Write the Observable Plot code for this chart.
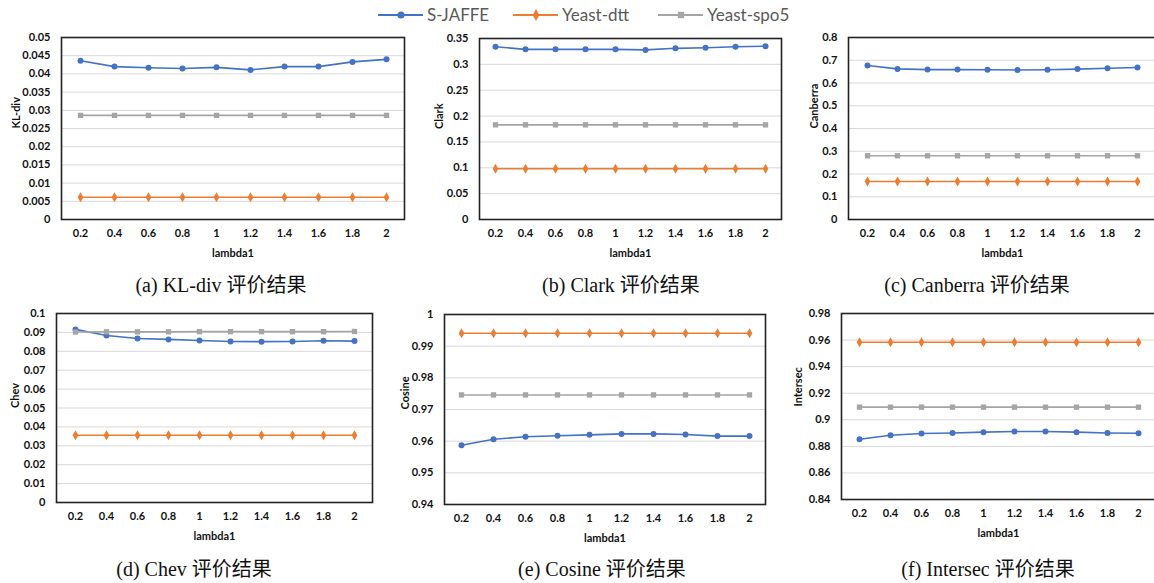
<!DOCTYPE html>
<html>
<head>
<meta charset="utf-8">
<script src="https://cdn.jsdelivr.net/npm/d3@7"></script>
<script src="https://cdn.jsdelivr.net/npm/@observablehq/plot@0.6"></script>
<style>
  html, body { margin: 0; padding: 0; background: #fff; overflow: hidden; }
  #root { position: relative; width: 1154px; height: 583px; overflow: hidden; }
  .panel { position: absolute; }
  .caption { position: absolute; transform: translate(-50%, -50%); white-space: nowrap;
    font-family: "Liberation Serif", "Times New Roman", "Noto Sans CJK SC", serif; font-size: 20px; color: #111; }
  #legend { position: absolute; left: 0; top: 0; width: 1154px; height: 30px; }
  .leg { position: absolute; top: 4px; display: flex; align-items: center; font-family: Lato, sans-serif; font-size: 17px; color: #595959; }
  .leg svg { margin-right: 3px; }
</style>
</head>
<body>
<div id="root"><div id="legend"></div></div>
<script>
// ---- data ----
const lambdas = ["0.2", "0.4", "0.6", "0.8", "1", "1.2", "1.4", "1.6", "1.8", "2"];
const seriesNames = ["S-JAFFE", "Yeast-dtt", "Yeast-spo5"];
const seriesColors = ["#4472C4", "#ED7D31", "#A5A5A5"];
const seriesSymbols = ["circle", "diamond", "square"];
const xTitle = "lambda1";

const klJaffe = [0.0436, 0.0420, 0.0417, 0.0415, 0.0418, 0.0411, 0.0420, 0.0420, 0.0433, 0.0440];
const klDtt   = [0.0061, 0.0061, 0.0061, 0.0061, 0.0061, 0.0061, 0.0061, 0.0061, 0.0061, 0.0061];
const klSpo5  = [0.0286, 0.0286, 0.0286, 0.0286, 0.0286, 0.0286, 0.0286, 0.0286, 0.0286, 0.0286];
const klTicks = [0, 0.005, 0.01, 0.015, 0.02, 0.025, 0.03, 0.035, 0.04, 0.045, 0.05];

const clarkJaffe = [0.334, 0.329, 0.329, 0.329, 0.329, 0.328, 0.331, 0.332, 0.334, 0.335];
const clarkDtt   = [0.098, 0.098, 0.098, 0.098, 0.098, 0.098, 0.098, 0.098, 0.098, 0.098];
const clarkSpo5  = [0.183, 0.183, 0.183, 0.183, 0.183, 0.183, 0.183, 0.183, 0.183, 0.183];
const clarkTicks = [0, 0.05, 0.1, 0.15, 0.2, 0.25, 0.3, 0.35];

const canberraJaffe = [0.677, 0.662, 0.659, 0.659, 0.658, 0.657, 0.658, 0.661, 0.665, 0.668];
const canberraDtt   = [0.167, 0.167, 0.167, 0.167, 0.167, 0.167, 0.167, 0.167, 0.167, 0.167];
const canberraSpo5  = [0.280, 0.280, 0.280, 0.280, 0.280, 0.280, 0.280, 0.280, 0.280, 0.280];
const canberraTicks = [0, 0.1, 0.2, 0.3, 0.4, 0.5, 0.6, 0.7, 0.8];

const chevJaffe = [0.0916, 0.0884, 0.0868, 0.0863, 0.0857, 0.0852, 0.0851, 0.0852, 0.0856, 0.0854];
const chevDtt   = [0.0356, 0.0356, 0.0356, 0.0356, 0.0356, 0.0356, 0.0356, 0.0356, 0.0356, 0.0356];
const chevSpo5  = [0.0902, 0.0903, 0.0903, 0.0903, 0.0904, 0.0904, 0.0904, 0.0904, 0.0904, 0.0905];
const chevTicks = [0, 0.01, 0.02, 0.03, 0.04, 0.05, 0.06, 0.07, 0.08, 0.09, 0.1];

const cosineJaffe = [0.9587, 0.9606, 0.9614, 0.9617, 0.9620, 0.9623, 0.9623, 0.9621, 0.9616, 0.9616];
const cosineDtt   = [0.9941, 0.9941, 0.9941, 0.9941, 0.9941, 0.9941, 0.9941, 0.9941, 0.9941, 0.9941];
const cosineSpo5  = [0.9746, 0.9746, 0.9746, 0.9746, 0.9746, 0.9746, 0.9746, 0.9746, 0.9746, 0.9746];
const cosineTicks = [0.94, 0.95, 0.96, 0.97, 0.98, 0.99, 1];

const intersecJaffe = [0.8854, 0.8884, 0.8897, 0.8901, 0.8907, 0.8912, 0.8912, 0.8907, 0.8901, 0.8899];
const intersecDtt   = [0.9584, 0.9584, 0.9584, 0.9584, 0.9584, 0.9584, 0.9584, 0.9584, 0.9584, 0.9584];
const intersecSpo5  = [0.9095, 0.9095, 0.9095, 0.9095, 0.9095, 0.9095, 0.9095, 0.9095, 0.9095, 0.9095];
const intersecTicks = [0.84, 0.86, 0.88, 0.9, 0.92, 0.94, 0.96, 0.98];

const metricNames = ["KL-div", "Clark", "Canberra", "Chev", "Cosine", "Intersec"];
const captions = ["(a) KL-div 评价结果", "(b) Clark 评价结果", "(c) Canberra 评价结果",
                  "(d) Chev 评价结果", "(e) Cosine 评价结果", "(f) Intersec 评价结果"];

// ---- layout (frame boxes in page pixels) ----
const layout = [
  {L: 61,  R: 404,  T: 37,  B: 219, ylab: -45, cx: 221, cy: 283},
  {L: 479, R: 781,  T: 38,  B: 219, ylab: -40, cx: 621, cy: 283},
  {L: 848, R: 1156, T: 37,  B: 219, ylab: -34, cx: 977, cy: 283},
  {L: 56,  R: 372,  T: 313, B: 502, ylab: -41, cx: 194, cy: 567},
  {L: 444, R: 765,  T: 314, B: 504, ylab: -39, cx: 602, cy: 567},
  {L: 841, R: 1155, T: 313, B: 499, ylab: -43, cx: 988, cy: 567}
];

const panels = [
  {vals: [klJaffe, klDtt, klSpo5], ticks: klTicks},
  {vals: [clarkJaffe, clarkDtt, clarkSpo5], ticks: clarkTicks},
  {vals: [canberraJaffe, canberraDtt, canberraSpo5], ticks: canberraTicks},
  {vals: [chevJaffe, chevDtt, chevSpo5], ticks: chevTicks},
  {vals: [cosineJaffe, cosineDtt, cosineSpo5], ticks: cosineTicks},
  {vals: [intersecJaffe, intersecDtt, intersecSpo5], ticks: intersecTicks}
];

const root = document.getElementById("root");
const mL = 62, mR = 2, mT = 8, mB = 46;
const fmt = d3.format("~g");

panels.forEach((p, i) => {
  const g = layout[i];
  const rows = [];
  seriesNames.forEach((s, si) => {
    p.vals[si].forEach((v, li) => rows.push({lambda: lambdas[li], series: s, value: v}));
  });
  const ticks = p.ticks;
  const chart = Plot.plot({
    width: (g.R - g.L) + mL + mR,
    height: (g.B - g.T) + mT + mB,
    marginLeft: mL, marginRight: mR, marginTop: mT, marginBottom: mB,
    style: {fontFamily: "Lato, sans-serif", fontSize: "11px", fontWeight: "bold", color: "#111", background: "transparent", overflow: "visible"},
    x: {type: "point", domain: lambdas, padding: 0.5, axis: null},
    y: {domain: [ticks[0], ticks[ticks.length - 1]], axis: null},
    color: {domain: seriesNames, range: seriesColors},
    symbol: {domain: seriesNames, range: seriesSymbols},
    marks: [
      Plot.gridY(ticks, {stroke: "#d9d9d9", strokeOpacity: 1, strokeWidth: 1}),
      Plot.axisY(ticks, {tickSize: 0, tickPadding: 11, tickFormat: fmt, fill: "#111", label: null}),
      Plot.axisX({tickSize: 0, tickPadding: 10, fill: "#111", label: null}),
      Plot.lineY(rows, {x: "lambda", y: "value", z: "series", stroke: "series", strokeWidth: 1.6}),
      Plot.dot(rows, {x: "lambda", y: "value", symbol: "series", fill: "series", r: 3}),
      Plot.frame({stroke: "#222", strokeWidth: 1.6}),
      Plot.text([metricNames[i]], {frameAnchor: "left", dx: g.ylab, rotate: -90, fill: "#111"}),
      Plot.text([xTitle], {frameAnchor: "bottom", dy: 37, fill: "#111"})
    ]
  });
  chart.classList.add("panel");
  chart.style.left = (g.L - mL) + "px";
  chart.style.top = (g.T - mT) + "px";
  root.appendChild(chart);

  const cap = document.createElement("div");
  cap.className = "caption";
  cap.textContent = captions[i];
  cap.style.left = g.cx + "px";
  cap.style.top = g.cy + "px";
  root.appendChild(cap);
});

// ---- legend ----
const legend = document.getElementById("legend");
const legendX = [378, 513, 658];
const ns = "http://www.w3.org/2000/svg";
seriesNames.forEach((s, i) => {
  const item = document.createElement("div");
  item.className = "leg";
  item.style.left = legendX[i] + "px";
  const svg = document.createElementNS(ns, "svg");
  svg.setAttribute("width", 46); svg.setAttribute("height", 14);
  const line = document.createElementNS(ns, "line");
  line.setAttribute("x1", 0); line.setAttribute("x2", 45); line.setAttribute("y1", 7); line.setAttribute("y2", 7);
  line.setAttribute("stroke", seriesColors[i]); line.setAttribute("stroke-width", 2);
  svg.appendChild(line);
  const sym = document.createElementNS(ns, "path");
  const symType = [d3.symbolCircle, d3.symbolDiamond, d3.symbolSquare][i];
  sym.setAttribute("d", d3.symbol(symType, 40)());
  sym.setAttribute("transform", "translate(23,7)");
  sym.setAttribute("fill", seriesColors[i]);
  svg.appendChild(sym);
  item.appendChild(svg);
  const t = document.createElement("span");
  t.textContent = s;
  item.appendChild(t);
  legend.appendChild(item);
});
</script>
</body>
</html>
